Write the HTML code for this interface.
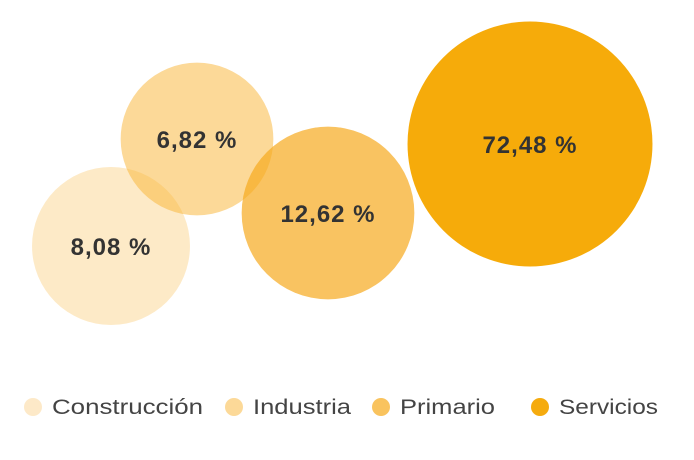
<!DOCTYPE html>
<html><head><meta charset="utf-8"><style>
body{margin:0;background:#fff;width:694px;height:455px;overflow:hidden;font-family:"Liberation Sans",sans-serif}
</style></head><body>
<svg width="694" height="455" id="chart"></svg>
<script>
const categories=["Construcción","Industria","Primario","Servicios"];
const values=[8.08,6.82,12.62,72.48];
const labels=["8,08 %","6,82 %","12,62 %","72,48 %"];
const layoutX=[111,197,328,530];
const layoutY=[246,139,213,144];
const colors=["rgba(250,190,80,0.32)","rgba(250,180,50,0.5)","rgba(246,170,30,0.7)","rgba(246,168,0,0.96)"];
const legendColors=["#fde9c8","#fcd998","#f9c35e","#f5ab0e"];
const NS="http://www.w3.org/2000/svg";
const svg=document.getElementById('chart');
function rScale(v){return 52*Math.pow(v,0.2);}
values.forEach((v,i)=>{
 const c=document.createElementNS(NS,'circle');
 
 
 c.setAttribute('cx',layoutX[i]);c.setAttribute('cy',layoutY[i]);c.setAttribute('r',rScale(v));
 c.setAttribute('fill',colors[i]);svg.appendChild(c);
});
values.forEach((v,i)=>{
 const t=document.createElementNS(NS,'text');
 
 
 t.setAttribute('x',layoutX[i]);t.setAttribute('y',layoutY[i]+9);
 t.setAttribute('text-anchor','middle');t.setAttribute('font-size','24');t.setAttribute('font-weight','bold');
 t.setAttribute('letter-spacing','1');
 t.setAttribute('fill','#333');t.textContent=labels[i];svg.appendChild(t);
});
const legX=[33,234,381,540];
const legTextLen=[151,98,95,99];
categories.forEach((c,i)=>{
 const g=document.createElementNS(NS,'g');
 
 
 const d=document.createElementNS(NS,'circle');
 d.setAttribute('cx',legX[i]);d.setAttribute('cy',407);d.setAttribute('r',9);d.setAttribute('fill',legendColors[i]);
 const t=document.createElementNS(NS,'text');
 t.setAttribute('x',legX[i]+19);t.setAttribute('y',414);t.setAttribute('font-size','21');t.setAttribute('fill','#444');
 t.setAttribute('textLength',legTextLen[i]);t.setAttribute('lengthAdjust','spacingAndGlyphs');
 t.textContent=c;g.appendChild(d);g.appendChild(t);svg.appendChild(g);
});
</script>
</body></html>
